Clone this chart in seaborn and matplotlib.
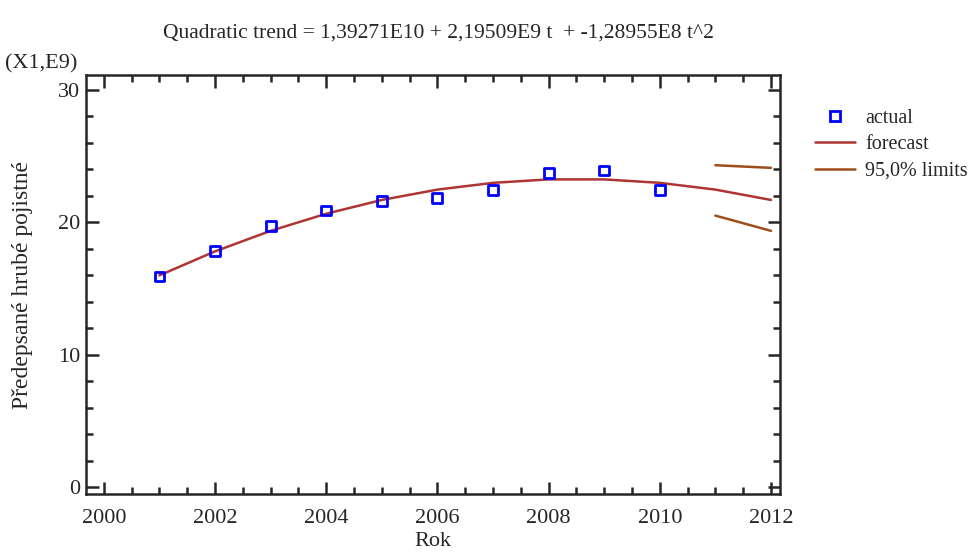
import seaborn as sns
import pandas as pd
import matplotlib.pyplot as plt
from matplotlib.ticker import MultipleLocator
from matplotlib.lines import Line2D

years_actual = [2001, 2002, 2003, 2004, 2005, 2006, 2007, 2008, 2009, 2010]
actual = [15.9, 17.83, 19.73, 20.88, 21.63, 21.83, 22.4, 23.73, 23.9, 22.4]

years_fc = [2001, 2002, 2003, 2004, 2005, 2006, 2007, 2008, 2009, 2010, 2011, 2012]
forecast = [15.99, 17.80, 19.35, 20.64, 21.68, 22.46, 22.97, 23.23, 23.23, 22.97, 22.46, 21.68]

years_lim = [2011, 2012]
upper = [24.3, 24.1]
lower = [20.5, 19.35]

sns.set_style("ticks")
plt.rcParams["font.family"] = ["Liberation Serif", "DejaVu Serif"]
plt.rcParams["font.size"] = 15

fc_col = "#b03434"
lim_col = "#9c4f1c"

fig = plt.figure(figsize=(9.7, 5.56), dpi=100)
ax = fig.add_axes([0.0887, 0.1115, 0.7153, 0.7535])

df_a = pd.DataFrame({"Rok": years_actual, "y": actual})
df_f = pd.DataFrame({"Rok": years_fc, "y": forecast})
sns.lineplot(data=df_f, x="Rok", y="y", color=fc_col, lw=1.8, ax=ax)
sns.lineplot(x=years_lim, y=upper, color=lim_col, lw=1.8, ax=ax)
sns.lineplot(x=years_lim, y=lower, color=lim_col, lw=1.8, ax=ax)
sns.scatterplot(data=df_a, x="Rok", y="y", marker="s", s=50, facecolor="none",
                edgecolor="#0000ff", linewidth=2, ax=ax, zorder=5)

ax.set_xlim(1999.68, 2012.16)
ax.set_ylim(-0.5, 31.1)
ax.set_xticks([2000, 2002, 2004, 2006, 2008, 2010, 2012])
ax.set_yticks([0, 10, 20, 30])
ax.xaxis.set_minor_locator(MultipleLocator(0.5))
ax.yaxis.set_minor_locator(MultipleLocator(2))
ax.tick_params(which="both", direction="in", top=True, right=True, width=1.8, labelsize=16)
ax.tick_params(axis="x", pad=11)
ax.tick_params(axis="y", pad=4)
ax.tick_params(which="major", length=9)
ax.tick_params(which="minor", length=5)
for s in ax.spines.values():
    s.set_linewidth(1.8)

ax.set_xlabel("Rok", fontsize=16, labelpad=3)
ax.set_ylabel("Předepsané hrubé pojistné", fontsize=17, labelpad=18)
fig.text(0.005, 0.868, "(X1,E9)", fontsize=16, va="bottom")
fig.text(0.452, 0.94, "Quadratic trend = 1,39271E10 + 2,19509E9 t  + -1,28955E8 t^2",
         ha="center", va="center", fontsize=15.5)

handles = [
    Line2D([], [], marker="s", ls="none", markerfacecolor="none", markeredgecolor="#0000ff",
           markeredgewidth=2, markersize=7),
    Line2D([], [], color=fc_col, lw=1.8),
    Line2D([], [], color=lim_col, lw=1.8),
]
fig.legend(handles, ["actual", "forecast", "95,0% limits"], loc="upper left",
           bbox_to_anchor=(0.832, 0.818), frameon=False, fontsize=14.5,
           handlelength=2.0, handletextpad=0.5, labelspacing=0.35, borderaxespad=0)

fig.savefig("out.png", dpi=100)
